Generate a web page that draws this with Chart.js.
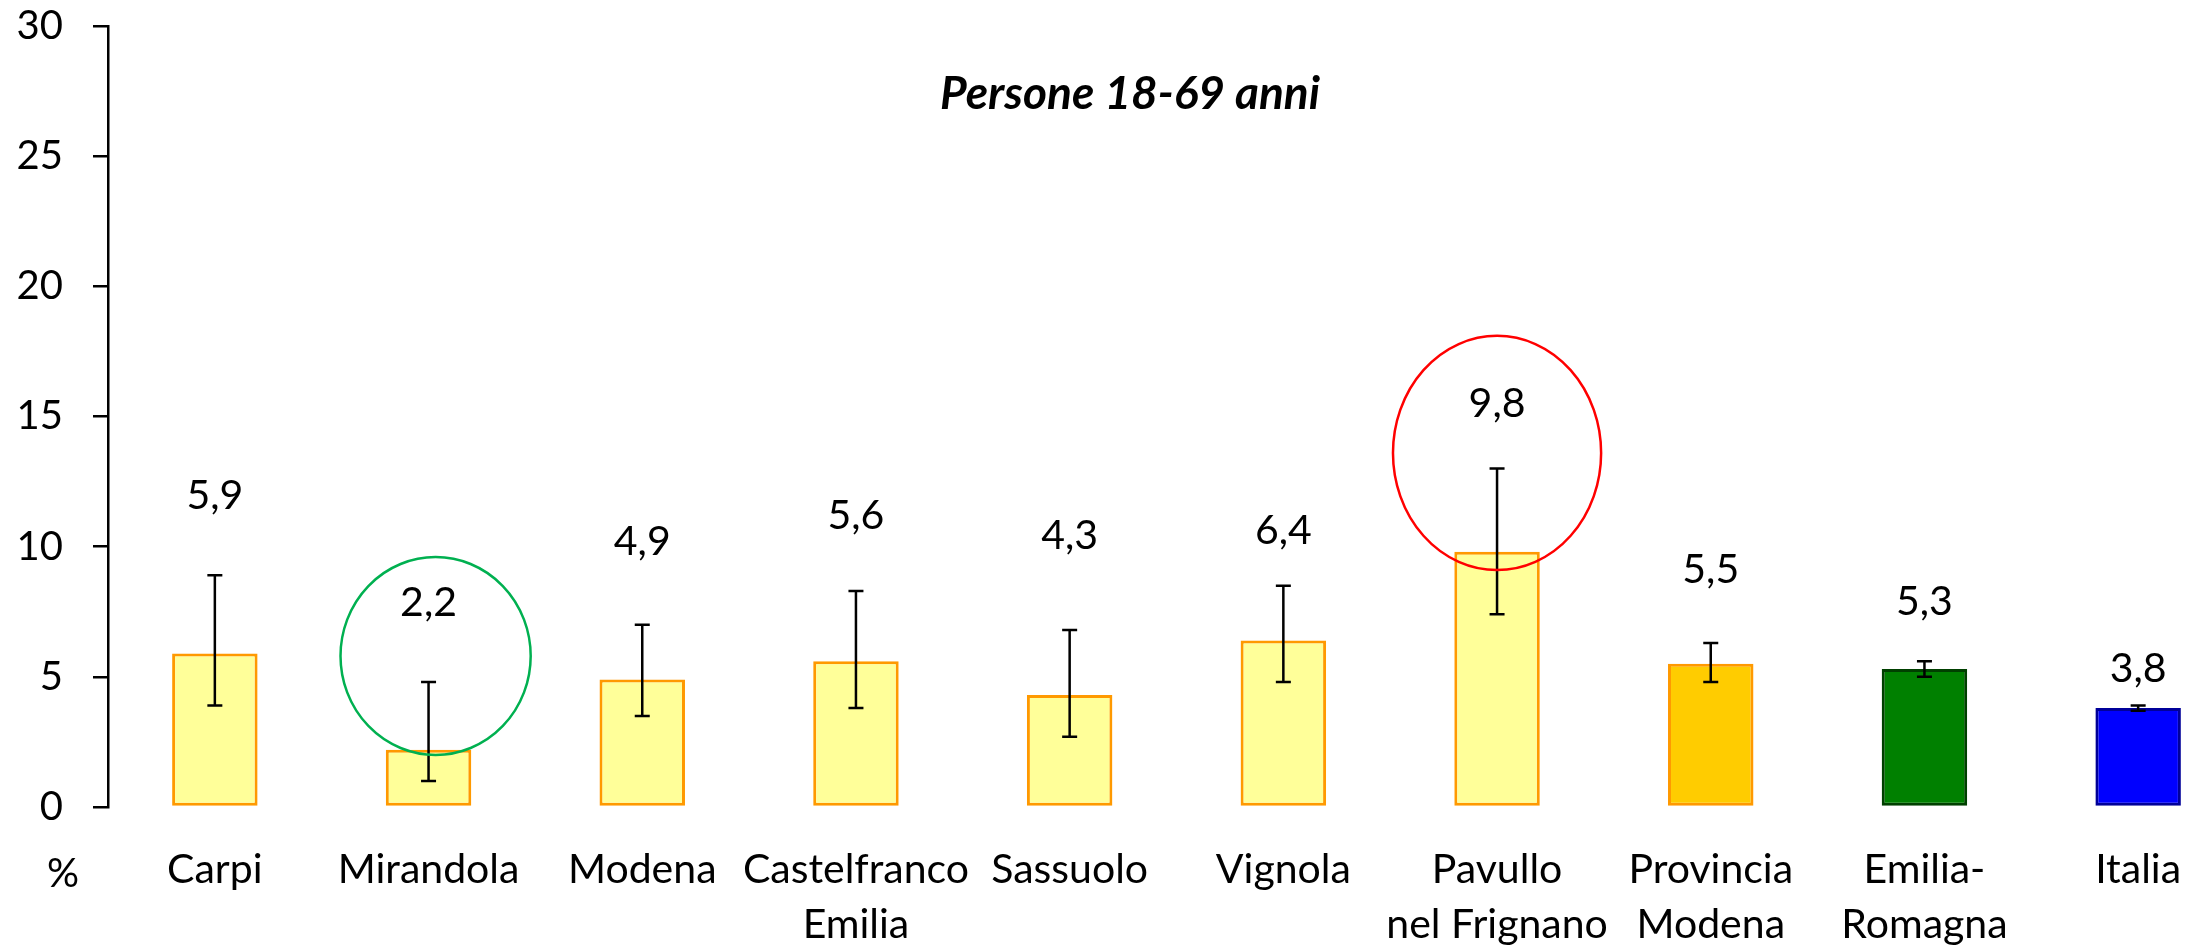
<!DOCTYPE html>
<html lang="it">
<head>
<meta charset="utf-8">
<title>Persone 18-69 anni</title>
<script src="https://cdn.jsdelivr.net/npm/chart.js@4.4.1/dist/chart.umd.min.js"></script>
<style>
    html, body { margin: 0; padding: 0; background: #fff; overflow: hidden; }
    #contenitore { width: 2245px; height: 945px; position: relative; }
</style>
</head>
<body>
<div id="contenitore"><canvas id="grafico"></canvas></div>
<script>
// Dati
const categorie = [['Carpi'], ['Mirandola'], ['Modena'], ['Castelfranco', 'Emilia'], ['Sassuolo'],
    ['Vignola'], ['Pavullo', 'nel Frignano'], ['Provincia', 'Modena'], ['Emilia-', 'Romagna'], ['Italia']];
const valori = [5.9, 2.2, 4.9, 5.6, 4.3, 6.4, 9.8, 5.5, 5.3, 3.8];
const icInferiore = [3.9, 1.0, 3.5, 3.8, 2.7, 4.8, 7.4, 4.8, 5.0, 3.7];
const icSuperiore = [8.9, 4.8, 7.0, 8.3, 6.8, 8.5, 13.0, 6.3, 5.6, 3.9];
// altezza (in %) a cui stanno le etichette dei valori
const posEtichette = [11.95, 7.85, 10.2, 11.2, 10.4, 10.6, 15.5, 9.1, 7.9, 5.3];
const tickAsseY = [0, 5, 10, 15, 20, 25, 30];

const FONT = 'Lato, "Open Sans", sans-serif';

// Colori delle barre
const riempimento = valori.map((v, i) => {
    if (i === 7) return '#FFCC00';
    if (i === 8) return '#008000';
    if (i === 9) return '#0000FF';
    return '#FFFF99';
});
const bordo = valori.map((v, i) => {
    if (i === 8) return '#004000';
    if (i === 9) return '#000099';
    return '#FF9900';
});

// Ellissi di evidenziazione (centro e raggio verticale in %, raggio orizzontale in frazioni di categoria)
const ellissi = [
    { indice: 1, centro: 5.8, raggioY: 3.8, raggioX: 0.445, spostamento: 0.033, colore: '#00B050' },
    { indice: 6, centro: 13.6, raggioY: 4.5, raggioX: 0.487, spostamento: 0, colore: '#FF0000' }
];

// Barre di errore
const pluginErrori = {
    id: 'barreErrore',
    afterDatasetsDraw(chart) {
        const ctx = chart.ctx;
        const y = chart.scales.y;
        const meta = chart.getDatasetMeta(0);
        ctx.save();
        ctx.strokeStyle = '#000';
        ctx.lineWidth = 2.5;
        meta.data.forEach((barra, i) => {
            const x = barra.x;
            const alto = y.getPixelForValue(icSuperiore[i]);
            const basso = y.getPixelForValue(icInferiore[i]);
            ctx.beginPath();
            ctx.moveTo(x, alto);
            ctx.lineTo(x, basso);
            ctx.moveTo(x - 7.5, alto);
            ctx.lineTo(x + 7.5, alto);
            ctx.moveTo(x - 7.5, basso);
            ctx.lineTo(x + 7.5, basso);
            ctx.stroke();
        });
        ctx.restore();
    }
};

// Etichette dei valori, titolo, ellissi e simbolo %
const pluginTesti = {
    id: 'testi',
    afterDraw(chart) {
        const ctx = chart.ctx;
        const y = chart.scales.y;
        const x = chart.scales.x;
        const area = chart.chartArea;
        const meta = chart.getDatasetMeta(0);
        const larghezzaCat = x.width / categorie.length;

        ctx.save();
        ctx.fillStyle = '#000';
        ctx.textAlign = 'center';
        ctx.textBaseline = 'middle';
        ctx.font = '41px ' + FONT;
        meta.data.forEach((barra, i) => {
            const testo = valori[i].toFixed(1).replace('.', ',');
            ctx.fillText(testo, barra.x, y.getPixelForValue(posEtichette[i]));
        });

        // simbolo % sotto l'asse
        ctx.font = '40px ' + FONT;
        ctx.fillText('%', area.left - 45, area.bottom + 67);

        // titolo
        ctx.font = 'italic bold 46px ' + FONT;
        ctx.textBaseline = 'alphabetic';
        ctx.fillText('Persone 18-69 anni', 1130, 109);

        // ellissi
        ctx.lineWidth = 2.5;
        ellissi.forEach(e => {
            const cx = meta.data[e.indice].x + e.spostamento * larghezzaCat;
            const cy = y.getPixelForValue(e.centro);
            const ry = y.getPixelForValue(0) - y.getPixelForValue(e.raggioY);
            ctx.strokeStyle = e.colore;
            ctx.beginPath();
            ctx.ellipse(cx, cy, e.raggioX * larghezzaCat, ry, 0, 0, Math.PI * 2);
            ctx.stroke();
        });
        ctx.restore();
    }
};

function disegnaGrafico() {
    new Chart(document.getElementById('grafico'), {
        type: 'bar',
        data: {
            labels: categorie,
            datasets: [{
                data: valori,
                backgroundColor: riempimento,
                borderColor: bordo,
                borderWidth: 3,
                borderSkipped: false,
                barPercentage: 0.40,
                categoryPercentage: 1.0
            }]
        },
        options: {
            responsive: true,
            maintainAspectRatio: false,
            animation: false,
            layout: { padding: 0 },
            plugins: {
                legend: { display: false },
                tooltip: { enabled: false }
            },
            scales: {
                x: {
                    grid: { display: false },
                    border: { display: false },
                    ticks: {
                        color: '#000',
                        font: { family: FONT, size: 41, lineHeight: 1.33 },
                        padding: 28,
                        maxRotation: 0,
                        autoSkip: false
                    },
                    afterFit(scala) { scala.height = 138; }
                },
                y: {
                    min: 0,
                    max: 30,
                    afterBuildTicks(scala) { scala.ticks = tickAsseY.map(v => ({ value: v })); },
                    grid: {
                        drawOnChartArea: false,
                        drawTicks: true,
                        tickLength: 15,
                        color: '#000',
                        lineWidth: 2.5
                    },
                    border: { display: true, color: '#000', width: 2.5 },
                    ticks: {
                        color: '#000',
                        font: { family: FONT, size: 40 },
                        padding: 30
                    },
                    afterFit(scala) {
                        scala.width = 108;
                        scala.paddingTop = 26;
                        scala.paddingBottom = 0;
                    }
                }
            }
        },
        plugins: [pluginErrori, pluginTesti]
    });
}

document.addEventListener('DOMContentLoaded', () => {
    disegnaGrafico();
});
</script>
</body>
</html>
